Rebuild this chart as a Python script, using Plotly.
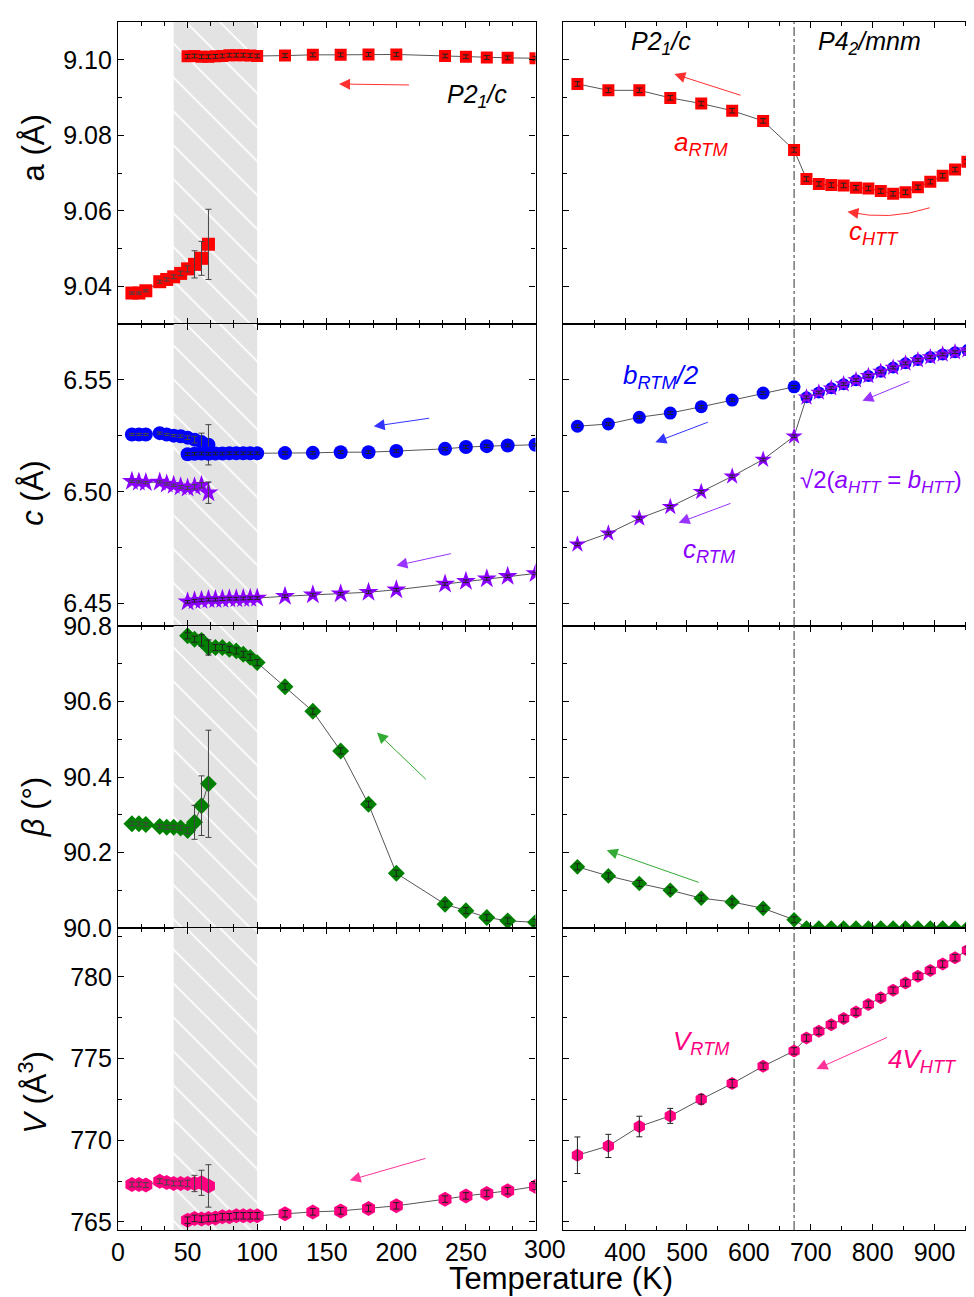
import plotly.graph_objects as go
from plotly.subplots import make_subplots

# ---------------- data ----------------
T_low = [10, 15, 20, 30, 35, 40, 45, 50, 55, 60, 65]
T_high = [50, 55, 60, 65, 70, 75, 80, 85, 90, 95, 100, 120, 140, 160, 180, 200, 235, 250, 265, 280, 300]
T_rtm = [323, 373, 423, 473, 523, 573, 623, 673]
T_htt = [693, 713, 733, 753, 773, 793, 813, 833, 853, 873, 893, 913, 933, 953]
T_transition = 673
hatch_T = [40, 100]

a_low = [9.0382, 9.0382, 9.0388, 9.0412, 9.0418, 9.0425, 9.0434, 9.0446, 9.0458, 9.0474, 9.0511]
a_low_err = [0.0003, 0.0003, 0.0003, 0.0004, 0.0004, 0.0005, 0.0006, 0.0008, 0.0036, 0.0045, 0.0093]
a_high = [9.1009, 9.1010, 9.1008, 9.1008, 9.1009, 9.1010, 9.1012, 9.1012, 9.1012, 9.1011, 9.1010,
          9.1011, 9.1013, 9.1013, 9.1014, 9.1014, 9.1010, 9.1008, 9.1006, 9.1005, 9.1004]
a_rtm = [9.0936, 9.0919, 9.0919, 9.0899, 9.0884, 9.0865, 9.0838, 9.0761]
c_htt_a = [9.0684, 9.0671, 9.0668, 9.0667, 9.0661, 9.0659, 9.0652, 9.0645, 9.0649, 9.0662,
           9.0677, 9.0693, 9.0709, 9.0730]

b_low = [6.5256, 6.5256, 6.5256, 6.5262, 6.5256, 6.5251, 6.5248, 6.5242, 6.5233, 6.5222, 6.5210]
b_low_err = [0.0005, 0.0005, 0.0005, 0.0005, 0.0005, 0.0005, 0.0006, 0.0008, 0.0015, 0.0040, 0.0090]
b_high = [6.5168, 6.5170, 6.5171, 6.5170, 6.5171, 6.5171, 6.5172, 6.5172, 6.5172, 6.5172, 6.5172,
          6.5173, 6.5174, 6.5177, 6.5177, 6.5182, 6.5192, 6.5200, 6.5204, 6.5207, 6.5210]
c_low = [6.5047, 6.5044, 6.5041, 6.5044, 6.5035, 6.5029, 6.5022, 6.5017, 6.5022, 6.5029, 6.4996]
c_low_err = [0.0005, 0.0005, 0.0005, 0.0005, 0.0005, 0.0005, 0.0006, 0.0007, 0.0010, 0.0012, 0.0048]
c_high = [6.4508, 6.4513, 6.4515, 6.4518, 6.4518, 6.4520, 6.4522, 6.4522, 6.4523, 6.4524, 6.4525,
          6.4533, 6.4540, 6.4544, 6.4551, 6.4562, 6.4588, 6.4600, 6.4611, 6.4622, 6.4635]
b_rtm = [6.5293, 6.5303, 6.5333, 6.5352, 6.5380, 6.5410, 6.5441, 6.5469]
c_rtm = [6.4765, 6.4814, 6.4881, 6.4933, 6.5000, 6.5069, 6.5144, 6.5248]
ab_htt = [6.5422, 6.5444, 6.5463, 6.5481, 6.5499, 6.5518, 6.5537, 6.5555, 6.5574, 6.5589,
          6.5602, 6.5614, 6.5624, 6.5633]

beta_low = [90.276, 90.276, 90.274, 90.269, 90.267, 90.267, 90.265, 90.258, 90.280, 90.324, 90.382]
beta_low_err = [0.005, 0.005, 0.005, 0.005, 0.005, 0.005, 0.006, 0.008, 0.045, 0.079, 0.142]
beta_high = [90.774, 90.765, 90.762, 90.743, 90.743, 90.743, 90.738, 90.734, 90.725, 90.717, 90.703,
             90.639, 90.574, 90.469, 90.328, 90.145, 90.063, 90.046, 90.028, 90.019, 90.015]
beta_high_err = [0.008, 0.008, 0.015, 0.020, 0.008, 0.008, 0.008, 0.008, 0.008, 0.008, 0.008,
                 0.008, 0.008, 0.008, 0.008, 0.008, 0.008, 0.008, 0.008, 0.008, 0.008]
beta_rtm = [90.162, 90.138, 90.118, 90.100, 90.079, 90.069, 90.052, 90.022]
beta_htt = [90.0] * 14

V_low = [767.29, 767.29, 767.25, 767.49, 767.41, 767.35, 767.35, 767.35, 767.35, 767.39, 767.20]
V_low_err = [0.15, 0.15, 0.15, 0.15, 0.15, 0.15, 0.15, 0.2, 0.5, 0.77, 1.3]
V_high = [765.10, 765.21, 765.17, 765.21, 765.24, 765.31, 765.31, 765.37, 765.37, 765.37, 765.37,
          765.49, 765.61, 765.67, 765.82, 765.98, 766.39, 766.59, 766.74, 766.90, 767.17]
V_rtm = [769.08, 769.65, 770.84, 771.49, 772.51, 773.47, 774.53, 775.47]
V_rtm_err = [1.12, 0.71, 0.63, 0.46, 0.30, 0.25, 0.20, 0.20]
V_htt = [776.26, 776.67, 777.08, 777.45, 777.85, 778.32, 778.73, 779.18, 779.63, 780.04,
         780.40, 780.79, 781.18, 781.63]

y_ranges = [[9.030, 9.110], [6.440, 6.575], [90.0, 90.8], [764.5, 783.0]]
y_dticks = [0.02, 0.05, 0.2, 5]
y_tick0 = [9.04, 6.45, 90.0, 765]
y_formats = [".2f", ".2f", ".1f", ".0f"]
x_left_ticks = [0, 50, 100, 150, 200, 250, 300]
x_right_ticks = [300, 400, 500, 600, 700, 800, 900]

# ---------------- geometry ----------------
OFF = 8  # default page body margin: the figure starts 8 px from the window corner
W, H = 974 - OFF, 1297 - OFF
L, R, TOP, BOT = 118 - OFF, 974 - OFF, 16 - OFF, 1230 - OFF
FONT = "Liberation Sans, Arial, sans-serif"

RED = "#ff0000"
BLUE = "#0000ff"
PURPLE = "#8b00ff"
GREEN = "#008000"
PINK = "#ff0080"
LINEC = "#555555"


def px(xp, yp):
    """window pixel (as in the reference) -> paper coordinates"""
    xp -= OFF
    yp -= OFF
    return (xp - L) / (R - L), (BOT - yp) / (BOT - TOP)


fig = make_subplots(rows=4, cols=2, horizontal_spacing=0.03, vertical_spacing=0)


def add_series(row, col, x, y, symbol, size, color, err=None, errc="#222222", lines=True):
    fig.add_trace(go.Scatter(
        x=x, y=y, mode="lines+markers" if lines else "markers",
        line=dict(color=LINEC, width=1),
        marker=dict(symbol=symbol, size=size, color=color, line=dict(width=0)),
        showlegend=False, hoverinfo="x+y"), row=row, col=col)
    if err is not None:
        fig.add_trace(go.Scatter(
            x=x, y=y, mode="markers",
            marker=dict(size=2, color="rgba(0,0,0,0)"),
            error_y=dict(type="data", array=err, visible=True, color=errc, thickness=1, width=3),
            showlegend=False, hoverinfo="skip"), row=row, col=col)


# hatched region in left column
for r in range(1, 5):
    lo, hi = y_ranges[r - 1]
    fig.add_trace(go.Scatter(
        x=[hatch_T[0], hatch_T[1], hatch_T[1], hatch_T[0], hatch_T[0]],
        y=[lo, lo, hi, hi, lo], mode="lines", fill="toself",
        fillcolor="#e3e3e3", line=dict(width=0, color="rgba(0,0,0,0)"),
        fillpattern=dict(shape="\\", bgcolor="#e3e3e3", fgcolor="#ffffff", size=24,
                         solidity=0.07, fillmode="replace"),
        showlegend=False, hoverinfo="skip"), row=r, col=1)

# row 1: a
add_series(1, 1, T_low, a_low, "square", 13, RED, a_low_err, "#444444")
add_series(1, 1, T_high, a_high, "square", 12, RED, [0.0005] * len(T_high))
add_series(1, 2, T_rtm + T_htt, a_rtm + c_htt_a, "square", 12, RED, [0.0006] * (len(T_rtm) + len(T_htt)))

# row 2: c
add_series(2, 1, T_low, b_low, "circle", 14, BLUE, b_low_err, "#444444")
add_series(2, 1, T_high, b_high, "circle", 14, BLUE, [0.0006] * len(T_high))
add_series(2, 1, T_low, c_low, "star", 15, PURPLE, c_low_err, "#444444")
add_series(2, 1, T_high, c_high, "star", 15, PURPLE, [0.0006] * len(T_high))
add_series(2, 2, T_rtm, b_rtm, "circle", 13, BLUE, [0.0006] * len(T_rtm))
add_series(2, 2, T_htt, ab_htt, "circle", 12, BLUE, None, lines=False)
add_series(2, 2, T_rtm + T_htt, c_rtm + ab_htt, "star", 13, PURPLE, [0.0006] * (len(T_rtm) + len(T_htt)))

# row 3: beta
add_series(3, 1, T_low, beta_low, "diamond", 13, GREEN, beta_low_err, "#444444")
add_series(3, 1, T_high, beta_high, "diamond", 13, GREEN, beta_high_err)
add_series(3, 2, T_rtm + T_htt, beta_rtm + beta_htt, "diamond", 12, GREEN,
           [0.008] * len(T_rtm) + [0.0] * len(T_htt))

# row 4: V
add_series(4, 1, T_low, V_low, "hexagon", 15, PINK, V_low_err, "#444444")
add_series(4, 1, T_high, V_high, "hexagon", 15, PINK, [0.2] * len(T_high))
add_series(4, 2, T_rtm + T_htt, V_rtm + V_htt, "hexagon", 13, PINK, V_rtm_err + [0.2] * len(T_htt))

# ---------------- axes ----------------
ydoms = [[0.75, 1.0], [0.5, 0.75], [0.25, 0.5], [0.0, 0.25]]
xdom_left = [0.0, (536 - OFF - L) / (R - L)]
xdom_right = [(563.7 - OFF - L) / (R - L), 1.0]
axis_common = dict(showline=True, linecolor="black", linewidth=1.3, mirror="ticks",
                   ticks="inside", ticklen=6, tickwidth=1, tickcolor="black",
                   showgrid=False, zeroline=False,
                   tickfont=dict(family=FONT, size=25, color="black"))
for r in range(1, 5):
    for c in (1, 2):
        idx = (r - 1) * 2 + c
        xs = "xaxis" if idx == 1 else f"xaxis{idx}"
        ys = "yaxis" if idx == 1 else f"yaxis{idx}"
        if c == 1:
            xa = dict(range=[0, 300], domain=xdom_left, tickmode="array", tickvals=x_left_ticks,
                      ticktext=[str(v) if v != 300 else "" for v in x_left_ticks],
                      minor=dict(tickmode="linear", tick0=0, dtick=50 / 3, ticks="inside",
                                 ticklen=4, tickcolor="black", tickwidth=1))
        else:
            xa = dict(range=[300, 962], domain=xdom_right, tickmode="array", tickvals=x_right_ticks,
                      ticktext=[str(v) if v != 300 else "" for v in x_right_ticks],
                      minor=dict(tickmode="linear", tick0=300, dtick=50, ticks="inside",
                                 ticklen=4, tickcolor="black", tickwidth=1))
        xa.update(axis_common)
        xa["showticklabels"] = (r == 4)
        ya = dict(range=y_ranges[r - 1], domain=ydoms[r - 1], tickmode="linear",
                  tick0=y_tick0[r - 1], dtick=y_dticks[r - 1], tickformat=y_formats[r - 1],
                  minor=dict(tickmode="linear", tick0=y_tick0[r - 1], dtick=y_dticks[r - 1] / 2,
                             ticks="inside", ticklen=4, tickcolor="black", tickwidth=1))
        ya.update(axis_common)
        ya["showticklabels"] = (c == 1)
        fig.layout[xs].update(xa)
        fig.layout[ys].update(ya)

# transition line
for r in range(1, 5):
    idx = (r - 1) * 2 + 2
    fig.add_shape(type="line", xref=f"x{idx}", yref=f"y{idx}",
                  x0=T_transition, x1=T_transition, y0=y_ranges[r - 1][0], y1=y_ranges[r - 1][1],
                  line=dict(color="#333333", width=1, dash="dashdot"), layer="below")

annotations = []


def text(xp, yp, s, color="black", size=25, angle=0, xanchor="center"):
    x, y = px(xp, yp)
    annotations.append(dict(x=x, y=y, xref="paper", yref="paper", text=s, showarrow=False,
                            textangle=angle, xanchor=xanchor, yanchor="middle",
                            font=dict(family=FONT, size=size, color=color)))


def arrow(tail, head, color):
    x, y = px(*head)
    annotations.append(dict(x=x, y=y, xref="paper", yref="paper", text="", showarrow=True,
                            ax=tail[0] - head[0], ay=tail[1] - head[1], axref="pixel", ayref="pixel",
                            arrowhead=2, arrowsize=2.2, arrowwidth=1, arrowcolor=color, standoff=0))


# axis titles
text(33, 143, "a (Å)", size=31, angle=-90)
text(33, 490, "<i>c</i> (Å)", size=31, angle=-90)
text(33, 805, "<i>β</i> (°)", size=31, angle=-90)
text(33, 1092, "<i>V</i> (Å<sup>3</sup>)", size=31, angle=-90)
text(562, 1279, "Temperature (K)", size=31)
text(545, 1249, "300", size=25)

# labels
text(477, 90, "<i>P2<sub>1</sub>/c</i>", size=25)
text(662, 37, "<i>P2<sub>1</sub>/c</i>", size=25)
text(870, 37, "<i>P4<sub>2</sub>/mnm</i>", size=25)
text(702, 138, "<i>a<sub>RTM</sub></i>", RED, 26)
text(875, 228, "<i>c<sub>HTT</sub></i>", RED, 26)
text(662, 372, "<i>b<sub>RTM</sub>/2</i>", BLUE, 26)
text(965, 478, "√2(<i>a<sub>HTT</sub></i> = <i>b<sub>HTT</sub></i>)", PURPLE, 24, xanchor="right")
text(710, 547, "<i>c<sub>RTM</sub></i>", PURPLE, 26)
text(702, 1042, "<i>V<sub>RTM</sub></i>", PINK, 26)
text(960, 1060, "<i>4V<sub>HTT</sub></i>", PINK, 26, xanchor="right")

# arrows
arrow((410.7, 79.3), (339.3, 78.3), "#ff3030")
arrow((742.7, 90), (675, 68.3), "#ff3030")
arrow((862, 208.8), (848.3, 206.7), "#ff3030")
arrow((431, 414), (374, 422.3), "#3333ff")
arrow((452.7, 550), (396.7, 562.3), "#9933ff")
arrow((710, 417.7), (656, 438.3), "#3333ff")
arrow((911.7, 376.7), (863.3, 396.7), "#9933ff")
arrow((732.7, 499.3), (679.3, 519.3), "#9933ff")
arrow((427.7, 778.3), (377.3, 730), "#33aa33")
arrow((700.7, 881), (607.3, 848.3), "#33aa33")
arrow((427.3, 1157.7), (350, 1180), "#ff3399")
arrow((889.3, 1036), (817.3, 1068.3), "#ff3399")

# curved arrow body
p0 = px(930.7, 202.7)
pc = px(890, 216)
p1 = px(850, 207)
fig.add_shape(type="path", xref="paper", yref="paper",
              path=f"M {p0[0]},{p0[1]} Q {pc[0]},{pc[1]} {p1[0]},{p1[1]}",
              line=dict(color="#ff3030", width=1))

fig.update_layout(
    width=W, height=H,
    margin=dict(l=L, r=W - R, t=TOP, b=H - BOT),
    paper_bgcolor="white", plot_bgcolor="rgba(0,0,0,0)",
    font=dict(family=FONT, color="black"),
    annotations=annotations,
    showlegend=False,
)

fig.write_html("out.html")
